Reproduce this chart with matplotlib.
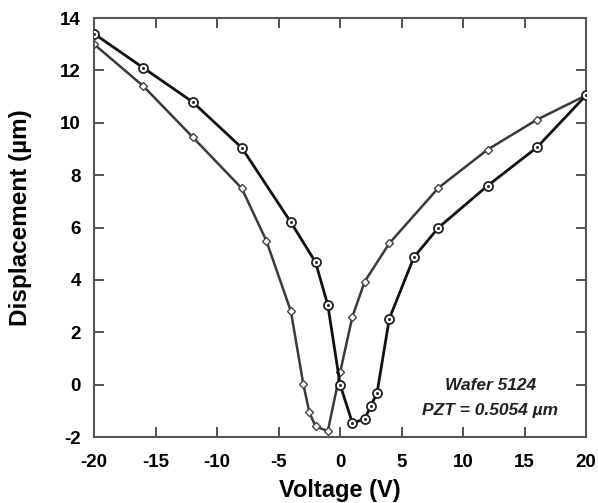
import matplotlib
matplotlib.use("Agg")
import matplotlib.pyplot as plt

# Circle-marker series (outer, black)
volt_circ = [-20, -16, -12, -8, -4, -2, -1, 0, 1, 2, 2.5, 3, 4, 6, 8, 12, 16, 20]
disp_circ = [13.4, 12.1, 10.8, 9.05, 6.2, 4.68, 3.04, 0.0, -1.46, -1.31, -0.8, -0.32, 2.52, 4.87, 6.0, 7.6, 9.06, 11.05]

# Diamond-marker series (inner, grey)
volt_diam = [-20, -16, -12, -8, -6, -4, -3, -2.5, -2, -1, 0, 1, 2, 4, 8, 12, 16, 20]
disp_diam = [13.0, 11.4, 9.46, 7.5, 5.5, 2.8, 0.04, -1.06, -1.59, -1.77, 0.47, 2.6, 3.94, 5.4, 7.52, 8.98, 10.12, 11.05]

xticks = [-20, -15, -10, -5, 0, 5, 10, 15, 20]
yticks = [-2, 0, 2, 4, 6, 8, 10, 12, 14]

plt.rcParams['font.family'] = ['Liberation Sans', 'DejaVu Sans']

fig = plt.figure(figsize=(5.98, 5.03), dpi=100)
ax = fig.add_axes([0.1575, 0.131, 0.8225, 0.833])

ax.plot(volt_diam, disp_diam, color='#3a3a3a', lw=1.8, marker='D', ms=4.5,
        mfc='white', mec='#444444', mew=1.0, zorder=2)
ax.plot(volt_circ, disp_circ, color='#111111', lw=2.0, marker='o', ms=6.5,
        mfc='white', mec='#222222', mew=1.3, zorder=3)
ax.plot(volt_circ, disp_circ, ls='none', marker='.', ms=2.5, color='#333333', zorder=4)

ax.set_xlim(-20, 20)
ax.set_ylim(-2, 14)
ax.set_xticks(xticks)
ax.set_yticks(yticks)
ax.set_xticklabels([str(t) for t in xticks], fontsize=13.5, fontweight='bold')
ax.set_yticklabels([str(t) for t in yticks], fontsize=13.5, fontweight='bold')
ax.tick_params(direction='in', top=True, right=True, length=7, width=1.3,
               colors='#444444', labelcolor='black')
ax.tick_params(axis='x', pad=12)
ax.tick_params(axis='y', pad=9.5)
for s in ax.spines.values():
    s.set_linewidth(1.5)
    s.set_color('#555555')

ax.set_xlabel('Voltage (V)', fontsize=17, fontweight='bold')
ax.set_ylabel('Displacement (\u00b5m)', fontsize=17.5, fontweight='bold')
ax.xaxis.set_label_coords(0.5, -0.100)
ax.yaxis.set_label_coords(-0.126, 0.524)

ax.text(0.805, 0.124, 'Wafer 5124', transform=ax.transAxes, ha='center', va='center',
        fontsize=12.5, style='italic', fontweight='bold', color='#222222')
ax.text(0.805, 0.064, 'PZT = 0.5054 \u00b5m', transform=ax.transAxes, ha='center', va='center',
        fontsize=12.5, style='italic', fontweight='bold', color='#222222')

fig.savefig('out.png', dpi=100)
